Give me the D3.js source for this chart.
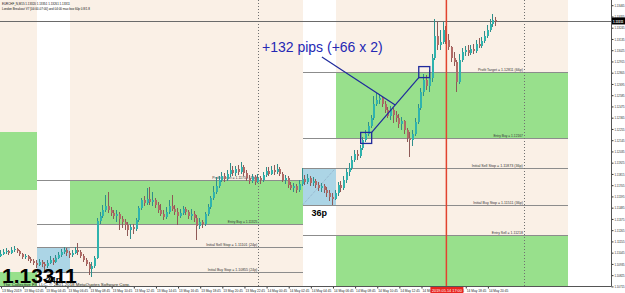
<!DOCTYPE html>
<html><head><meta charset="utf-8">
<script src="https://cdn.jsdelivr.net/npm/d3@7"></script>
<style>
html,body{margin:0;padding:0;background:#fff;}
svg{display:block;font-family:"Liberation Sans",Arial,sans-serif;}
.narrow{font-family:"Liberation Sans Narrow","Liberation Sans",Arial,sans-serif;}
</style></head><body>
<svg id="chart" width="625" height="293"></svg>
<script>
// ---------------- DATA ----------------
const headerLine1 = "EURCHF_N,M15  1.13320 1.13351 1.13261 1.13311";
const headerLine2 = "London Breakout V7 [04:00-07:00] and 04:00 max box 60p 0.8/1.8";
const copyright = "The Collective FX LLC, \u00A9 2001-2018 MetaQuotes Software Corp.";
const firstBar = "2019-05-13 00:45";
const barMinutes = 15;

const open = [
1.11012,1.11032,1.11051,1.11061,1.11042,1.11071,1.11081,1.11061,1.11032,1.11003,
1.11012,1.10983,1.10963,1.10944,1.10924,1.10953,1.10934,1.10914,1.10944,1.10973,
1.10953,1.10993,1.11022,1.11051,1.11071,1.11042,1.11022,1.11042,1.11071,1.11051,
1.11012,1.10973,1.10934,1.10885,1.10914,1.10993,1.11354,1.11403,1.11462,1.11501,
1.11462,1.11433,1.11403,1.11423,1.11374,1.11344,1.11315,1.11267,1.11296,1.11276,
1.11364,1.11482,1.11560,1.11531,1.11570,1.11540,1.11560,1.11511,1.11462,1.11423,
1.11394,1.11442,1.11501,1.11472,1.11442,1.11403,1.11433,1.11472,1.11442,1.11403,
1.11423,1.11384,1.11305,1.11344,1.11325,1.11423,1.11492,1.11580,1.11638,1.11697,
1.11756,1.11794,1.11765,1.11814,1.11853,1.11824,1.11863,1.11833,1.11883,1.11824,
1.11778,1.11746,1.11785,1.11736,1.11778,1.11756,1.11804,1.11843,1.11814,1.11853,
1.11833,1.11863,1.11814,1.11756,1.11778,1.11707,1.11678,1.11697,1.11658,1.11717,
1.11765,1.11736,1.11778,1.11727,1.11746,1.11707,1.11678,1.11697,1.11658,1.11629,
1.11590,1.11570,1.11629,1.11707,1.11678,1.11756,1.11833,1.11873,1.11951,1.12010,
1.11990,1.12069,1.12147,1.12206,1.12283,1.12362,1.12499,1.12538,1.12558,1.12499,
1.12440,1.12381,1.12440,1.12391,1.12362,1.12303,1.12332,1.12245,1.12167,1.12147,
1.12206,1.12322,1.12460,1.12616,1.12734,1.12675,1.12753,1.12949,1.13164,1.13076,
1.13105,1.13223,1.13125,1.13057,1.12949,1.12909,1.12714,1.12929,1.13007,1.13027,
1.12998,1.13037,1.13017,1.13086,1.13066,1.13115,1.13164,1.13223,1.13281,1.13320];

const high = [
1.11071,1.11081,1.11091,1.11071,1.11101,1.11110,1.11091,1.11071,1.11042,1.11032,
1.11022,1.11003,1.10983,1.10973,1.10983,1.10973,1.10953,1.10973,1.11012,1.10993,
1.11022,1.11051,1.11081,1.11101,1.11091,1.11061,1.11071,1.11101,1.11140,1.11071,
1.11032,1.10993,1.10953,1.10953,1.11012,1.11384,1.11442,1.11511,1.11609,1.11638,
1.11492,1.11462,1.11462,1.11442,1.11403,1.11374,1.11344,1.11325,1.11325,1.11384,
1.11501,1.11580,1.11599,1.11678,1.11688,1.11638,1.11580,1.11540,1.11521,1.11462,
1.11492,1.11560,1.11609,1.11511,1.11482,1.11472,1.11501,1.11492,1.11462,1.11472,
1.11452,1.11413,1.11384,1.11364,1.11442,1.11521,1.11599,1.11697,1.11785,1.11794,
1.11833,1.11824,1.11853,1.11922,1.11892,1.11892,1.11902,1.11931,1.11902,1.11853,
1.11804,1.11814,1.11804,1.11814,1.11794,1.11833,1.11883,1.11883,1.11892,1.11902,
1.11912,1.11883,1.11833,1.11804,1.11794,1.11736,1.11727,1.11717,1.11756,1.11873,
1.11804,1.11814,1.11794,1.11785,1.11765,1.11736,1.11727,1.11717,1.11688,1.11658,
1.11629,1.11658,1.11736,1.11746,1.11794,1.11873,1.11922,1.11990,1.12049,1.12049,
1.12098,1.12177,1.12245,1.12322,1.12391,1.12577,1.12607,1.12597,1.12568,1.12528,
1.12470,1.12479,1.12460,1.12430,1.12401,1.12372,1.12342,1.12265,1.12225,1.12245,
1.12362,1.12499,1.12656,1.12792,1.12782,1.12831,1.12988,1.13330,1.13300,1.13223,
1.13300,1.13261,1.13184,1.13066,1.13007,1.12929,1.12988,1.13047,1.13066,1.13076,
1.13076,1.13086,1.13125,1.13145,1.13155,1.13213,1.13271,1.13330,1.13379,1.13351];

const low = [
1.11003,1.11022,1.11032,1.11022,1.11032,1.11051,1.11042,1.11012,1.10983,1.10983,
1.10963,1.10944,1.10924,1.10895,1.10914,1.10905,1.10855,1.10895,1.10934,1.10924,
1.10944,1.10983,1.11003,1.11032,1.11012,1.10993,1.11003,1.11032,1.11022,1.10993,
1.10953,1.10914,1.10826,1.10807,1.10895,1.10983,1.11325,1.11384,1.11442,1.11433,
1.11403,1.11374,1.11344,1.11267,1.11286,1.11267,1.11208,1.11179,1.11228,1.11257,
1.11344,1.11462,1.11501,1.11511,1.11511,1.11501,1.11482,1.11433,1.11403,1.11364,
1.11374,1.11423,1.11452,1.11413,1.11315,1.11384,1.11413,1.11413,1.11374,1.11364,
1.11344,1.11169,1.11276,1.11286,1.11305,1.11403,1.11472,1.11560,1.11619,1.11678,
1.11736,1.11736,1.11746,1.11785,1.11794,1.11794,1.11804,1.11814,1.11794,1.11746,
1.11717,1.11727,1.11707,1.11727,1.11717,1.11736,1.11785,1.11794,1.11804,1.11804,
1.11814,1.11794,1.11736,1.11717,1.11678,1.11658,1.11638,1.11629,1.11638,1.11697,
1.11707,1.11717,1.11697,1.11697,1.11678,1.11648,1.11638,1.11629,1.11590,1.11550,
1.11511,1.11560,1.11599,1.11638,1.11658,1.11727,1.11794,1.11853,1.11931,1.11951,
1.11971,1.12049,1.12127,1.12186,1.12265,1.12342,1.12479,1.12499,1.12470,1.12411,
1.12362,1.12342,1.12313,1.12322,1.12265,1.12245,1.12206,1.12127,1.11980,1.12088,
1.12186,1.12303,1.12440,1.12577,1.12636,1.12616,1.12714,1.12929,1.13027,1.13027,
1.13086,1.13086,1.13027,1.12909,1.12870,1.12616,1.12695,1.12909,1.12969,1.12969,
1.12978,1.12988,1.12998,1.13047,1.13047,1.13096,1.13145,1.13203,1.13251,1.13261];

const close = [
1.11032,1.11051,1.11061,1.11042,1.11071,1.11081,1.11061,1.11032,1.11003,1.11012,
1.10983,1.10963,1.10944,1.10924,1.10953,1.10934,1.10914,1.10944,1.10973,1.10953,
1.10993,1.11022,1.11051,1.11071,1.11042,1.11022,1.11042,1.11071,1.11051,1.11012,
1.10973,1.10934,1.10885,1.10914,1.10993,1.11354,1.11403,1.11462,1.11501,1.11462,
1.11433,1.11403,1.11423,1.11374,1.11344,1.11315,1.11267,1.11296,1.11276,1.11364,
1.11482,1.11560,1.11531,1.11570,1.11540,1.11560,1.11511,1.11462,1.11423,1.11394,
1.11442,1.11501,1.11472,1.11442,1.11403,1.11433,1.11472,1.11442,1.11403,1.11423,
1.11384,1.11305,1.11344,1.11325,1.11423,1.11492,1.11580,1.11638,1.11697,1.11756,
1.11794,1.11765,1.11814,1.11853,1.11824,1.11863,1.11833,1.11883,1.11824,1.11778,
1.11746,1.11785,1.11736,1.11778,1.11756,1.11804,1.11843,1.11814,1.11853,1.11833,
1.11863,1.11814,1.11756,1.11778,1.11707,1.11678,1.11697,1.11658,1.11717,1.11765,
1.11736,1.11778,1.11727,1.11746,1.11707,1.11678,1.11697,1.11658,1.11629,1.11590,
1.11570,1.11629,1.11707,1.11678,1.11756,1.11833,1.11873,1.11951,1.12010,1.11990,
1.12069,1.12147,1.12206,1.12283,1.12362,1.12499,1.12538,1.12558,1.12499,1.12440,
1.12381,1.12440,1.12391,1.12362,1.12303,1.12332,1.12245,1.12167,1.12147,1.12206,
1.12322,1.12460,1.12616,1.12734,1.12675,1.12753,1.12949,1.13164,1.13076,1.13105,
1.13223,1.13125,1.13057,1.12949,1.12909,1.12714,1.12929,1.13007,1.13027,1.12998,
1.13037,1.13017,1.13086,1.13066,1.13115,1.13164,1.13223,1.13281,1.13320,1.13311];

const lastPrice = 1.13311;
const lastPriceLabel = "1.13311";

const priceTicks = [1.13465,1.13355,1.13245,1.13135,1.13025,1.12915,1.12805,1.12695,1.12585,1.12475,
  1.12365,1.12255,1.12145,1.12035,1.11925,1.11815,1.11705,1.11595,1.11485,1.11375,
  1.11265,1.11155,1.11045,1.10935,1.10825,1.10715];

const timeTicks = ["2019-05-13 00:45","2019-05-13 02:45","2019-05-13 04:45","2019-05-13 06:45",
  "2019-05-13 08:45","2019-05-13 10:45","2019-05-13 12:45","2019-05-13 14:45","2019-05-13 16:45",
  "2019-05-13 18:45","2019-05-13 20:45","2019-05-13 22:45","2019-05-14 00:45","2019-05-14 02:45",
  "2019-05-14 04:45","2019-05-14 06:45","2019-05-14 08:45","2019-05-14 10:45","2019-05-14 12:45",
  "2019-05-14 14:45","2019-05-14 16:45","2019-05-14 18:45","2019-05-14 20:45"];
const timeLabels = ["13 May 2019","13 May 02:45","13 May 04:45","13 May 06:45","13 May 08:45",
  "13 May 10:45","13 May 12:45","13 May 14:45","13 May 16:45","13 May 18:45","13 May 20:45",
  "13 May 22:45","14 May 00:45","14 May 02:45","14 May 04:45","14 May 06:45","14 May 08:45",
  "14 May 10:45","14 May 12:45","14 May 14:45","14 May 16:45","14 May 18:45","14 May 20:45"];

// session shading (trade windows) and range boxes
const tradeWindows = [["2019-05-12 20:00","2019-05-13 04:00"],["2019-05-13 07:00","2019-05-14 04:00"],["2019-05-14 07:00","2019-05-15 04:00"]];
const rangeBoxes = [
  {start:"2019-05-13 04:00", end:"2019-05-13 07:00", high:1.11101, low:1.10855, label:"24p"},
  {start:"2019-05-14 04:00", end:"2019-05-14 07:00", high:1.11873, low:1.11511, label:"36p"}];
const targetZones = [
  {start:"2019-05-12 20:00", end:"2019-05-13 04:00", top:1.12225, bottom:1.11658},
  {start:"2019-05-12 20:00", end:"2019-05-13 04:00", top:1.10855, bottom:1.10300},
  {start:"2019-05-13 07:00", end:"2019-05-14 04:00", top:1.11756, bottom:1.11325},
  {start:"2019-05-14 07:00", end:"2019-05-15 04:00", top:1.12811, bottom:1.12167},
  {start:"2019-05-14 07:00", end:"2019-05-15 04:00", top:1.11218, bottom:1.10558}];
const levelLines = [
  {start:"2019-05-13 04:00", end:"2019-05-14 04:00", at:"2019-05-14 00:00", price:1.11756, text:"Profit Target = 1.11756 (43p)"},
  {start:"2019-05-13 04:00", end:"2019-05-14 04:00", at:"2019-05-14 00:00", price:1.11325, text:"Entry Buy = 1.11325"},
  {start:"2019-05-13 04:00", end:"2019-05-14 04:00", at:"2019-05-14 00:00", price:1.11101, text:"Initial Sell Stop = 1.11101 (24p)"},
  {start:"2019-05-13 04:00", end:"2019-05-14 04:00", at:"2019-05-14 00:00", price:1.10855, text:"Initial Buy Stop = 1.10855 (24p)"},
  {start:"2019-05-14 04:00", end:"2019-05-15 04:00", at:"2019-05-15 00:00", price:1.12811, text:"Profit Target = 1.12811 (66p)"},
  {start:"2019-05-14 04:00", end:"2019-05-15 04:00", at:"2019-05-15 00:00", price:1.12167, text:"Entry Buy = 1.12167"},
  {start:"2019-05-14 04:00", end:"2019-05-15 04:00", at:"2019-05-15 00:00", price:1.11873, text:"Initial Sell Stop = 1.11873 (36p)"},
  {start:"2019-05-14 04:00", end:"2019-05-15 04:00", at:"2019-05-15 00:00", price:1.11511, text:"Initial Buy Stop = 1.11511 (36p)"},
  {start:"2019-05-14 04:00", end:"2019-05-15 04:00", at:"2019-05-15 00:00", price:1.11218, text:"Entry Sell = 1.11218"}];
const dayLines = ["2019-05-14 00:00","2019-05-15 00:00"];
const markerTime = "2019-05-14 17:00";
const markerLabel = "2019.05.14 17:00";

// trade annotation
const tradeEntry = {time:"2019-05-14 09:45", price:1.12167};
const tradeExit  = {time:"2019-05-14 15:00", price:1.12811};
const noteText = "+132 pips (+66 x 2)";
const notePos = {time:"2019-05-14 00:20", price:1.13007};
const noteLineStart = {time:"2019-05-14 05:45", price:1.12959};

// ---------------- CHART ----------------
const W = 625, H = 293, plotR = 611, plotB = 286;
const parse = d3.timeParse("%Y-%m-%d %H:%M");
const x = d3.scaleTime().domain([parse("2019-05-13 00:00"), parse("2019-05-15 04:00")]).range([-7.26, 568.1]);
const y = d3.scaleLinear().domain([1.10719, 1.13516]).range([plotB, 0]);
const px = v => Math.round(v) + 0.5;

const svg = d3.select("#chart");
svg.append("rect").attr("width", W).attr("height", H).attr("fill", "#ffffff");
svg.append("defs").append("clipPath").attr("id", "plotclip")
  .append("rect").attr("x", 0).attr("y", 0).attr("width", plotR).attr("height", plotB);
const g = svg.append("g").attr("clip-path", "url(#plotclip)").attr("shape-rendering", "crispEdges");

// trade-window shading
g.selectAll("rect.win").data(tradeWindows).join("rect")
  .attr("x", d => Math.round(x(parse(d[0])))).attr("y", 0)
  .attr("width", d => Math.round(x(parse(d[1]))) - Math.round(x(parse(d[0])))).attr("height", plotB)
  .attr("fill", "#faf0e6");

// target zones
g.selectAll("rect.zone").data(targetZones).join("rect")
  .attr("x", d => Math.round(x(parse(d.start)))).attr("y", d => Math.round(y(d.top)))
  .attr("width", d => Math.round(x(parse(d.end))) - Math.round(x(parse(d.start))))
  .attr("height", d => Math.round(y(d.bottom)) - Math.round(y(d.top)))
  .attr("fill", "#98e08c");

// range boxes
g.selectAll("rect.box").data(rangeBoxes).join("rect")
  .attr("x", d => Math.round(x(parse(d.start)))).attr("y", d => Math.round(y(d.high)))
  .attr("width", d => Math.round(x(parse(d.end))) - Math.round(x(parse(d.start))))
  .attr("height", d => Math.round(y(d.low)) - Math.round(y(d.high)))
  .attr("fill", "#acd5e6");
g.selectAll("line.diag").data(rangeBoxes).join("line")
  .attr("x1", d => x(parse(d.start))).attr("y1", d => y(d.low))
  .attr("x2", d => x(parse(d.end))).attr("y2", d => y(d.high))
  .attr("stroke", "#8aa6c0").attr("stroke-width", 0.8).attr("stroke-dasharray", "1,1")
  .attr("shape-rendering", "auto");

// level lines
g.selectAll("line.lvl").data(levelLines).join("line")
  .attr("x1", d => x(parse(d.start))).attr("x2", d => x(parse(d.end)))
  .attr("y1", d => px(y(d.price))).attr("y2", d => px(y(d.price)))
  .attr("stroke", "#8c8c8c").attr("stroke-width", 1);

// day separators (dotted)
g.selectAll("line.day").data(dayLines).join("line")
  .attr("x1", d => px(x(parse(d)))).attr("x2", d => px(x(parse(d))))
  .attr("y1", 0).attr("y2", plotB)
  .attr("stroke", "#707070").attr("stroke-width", 1).attr("stroke-dasharray", "1,2");

// level labels (tiny condensed MT4 text)
g.selectAll("text.lvl").data(levelLines).join("text")
  .attr("class", "narrow")
  .attr("x", d => x(parse(d.at)) - 1).attr("y", d => Math.round(y(d.price)) - 1)
  .attr("text-anchor", "end").attr("font-size", 3.6).attr("fill", "#333")
  .attr("textLength", d => d.text.length * 1.55).attr("lengthAdjust", "spacingAndGlyphs")
  .text(d => d.text);

// range labels
g.selectAll("text.rng").data(rangeBoxes).join("text")
  .attr("x", d => (x(parse(d.start)) + x(parse(d.end))) / 2).attr("y", d => y(d.low) + 11)
  .attr("text-anchor", "middle").attr("font-size", 9).attr("font-weight", "bold").attr("fill", "#000")
  .text(d => d.label);

// current price line
g.append("line").attr("x1", 0).attr("x2", plotR)
  .attr("y1", px(y(lastPrice))).attr("y2", px(y(lastPrice)))
  .attr("stroke", "#6a6a6a").attr("stroke-width", 1);

// candles
const t0 = parse(firstBar);
const bars = close.map((c, i) => ({
  t: new Date(t0.getTime() + i * barMinutes * 60000),
  o: open[i], h: high[i], l: low[i], c: c
}));
const cg = g.append("g");
cg.selectAll("rect.wick").data(bars).join("rect")
  .attr("x", d => Math.round(x(d.t)) - 1).attr("width", 1)
  .attr("y", d => Math.round(y(d.h))).attr("height", d => Math.max(1, Math.round(y(d.l)) - Math.round(y(d.h))))
  .attr("fill", d => d.c >= d.o ? "#2f8f8b" : "#8f5a57");
cg.selectAll("rect.body").data(bars).join("rect")
  .attr("x", d => Math.round(x(d.t)) - 1).attr("width", 2)
  .attr("y", d => Math.round(y(Math.max(d.o, d.c))))
  .attr("height", d => Math.max(1, Math.round(y(Math.min(d.o, d.c))) - Math.round(y(Math.max(d.o, d.c)))))
  .attr("fill", d => d.c >= d.o ? "#2fb3ae" : "#b06a66");

// red time marker
g.append("line").attr("x1", x(parse(markerTime))).attr("x2", x(parse(markerTime)))
  .attr("y1", 0).attr("y2", plotB).attr("stroke", "#e2432f").attr("stroke-width", 1.5)
  .attr("shape-rendering", "auto");

// trade annotation
const ann = g.append("g").attr("shape-rendering", "auto");
const sq = 11;
const ex = x(parse(tradeEntry.time)), ey = y(tradeEntry.price);
const xx = x(parse(tradeExit.time)), xy = y(tradeExit.price);
ann.append("line").attr("x1", ex + sq / 2).attr("y1", ey - sq / 2).attr("x2", xx - sq / 2).attr("y2", xy + sq / 2)
  .attr("stroke", "#1f2a9c").attr("stroke-width", 1.2);
ann.append("line").attr("x1", x(parse(noteLineStart.time))).attr("y1", y(noteLineStart.price))
  .attr("x2", (ex + xx) / 2).attr("y2", (ey + xy) / 2)
  .attr("stroke", "#1f2a9c").attr("stroke-width", 1.2);
ann.selectAll("rect").data([[ex, ey], [xx, xy]]).join("rect")
  .attr("x", d => d[0] - sq / 2).attr("y", d => d[1] - sq / 2).attr("width", sq).attr("height", sq)
  .attr("fill", "none").attr("stroke", "#1f2a9c").attr("stroke-width", 1.3);
ann.append("text").attr("x", x(parse(notePos.time))).attr("y", y(notePos.price))
  .attr("font-size", 14).attr("fill", "#2528b4").text(noteText);

// header & footer texts
svg.append("text").attr("class", "narrow").attr("x", 2).attr("y", 5).attr("font-size", 4.2).attr("fill", "#111")
  .attr("textLength", 68).attr("lengthAdjust", "spacingAndGlyphs").text(headerLine1);
svg.append("text").attr("class", "narrow").attr("x", 2).attr("y", 10).attr("font-size", 4.2).attr("fill", "#111")
  .attr("textLength", 88).attr("lengthAdjust", "spacingAndGlyphs").text(headerLine2);
svg.append("text").attr("x", 2).attr("y", 283).attr("font-size", 21).attr("font-weight", "bold")
  .attr("fill", "#000").text(lastPriceLabel);
svg.append("text").attr("class", "narrow").attr("x", 3).attr("y", 285.6).attr("font-size", 3.8).attr("fill", "#1a2a1a")
  .attr("textLength", 127).attr("lengthAdjust", "spacingAndGlyphs").text(copyright);

// right price axis
const yAxis = svg.append("g").attr("transform", `translate(${plotR + 0.5},0)`)
  .call(d3.axisRight(y).tickValues(priceTicks).tickSize(2).tickSizeOuter(0).tickPadding(1)
    .tickFormat(d3.format(".5f")));
yAxis.select(".domain").remove();
yAxis.selectAll("line").attr("stroke", "#333");
yAxis.selectAll("text").attr("class", "narrow").attr("font-size", 3.6).attr("fill", "#222")
  .attr("textLength", 10).attr("lengthAdjust", "spacingAndGlyphs");
svg.append("line").attr("x1", plotR + 0.5).attr("x2", plotR + 0.5).attr("y1", 0).attr("y2", plotB + 0.5)
  .attr("stroke", "#555");

// bottom time axis
const xAxis = svg.append("g").attr("transform", `translate(0,${plotB + 0.5})`)
  .call(d3.axisBottom(x).tickValues(timeTicks.map(parse)).tickSize(2).tickSizeOuter(0).tickPadding(0.5)
    .tickFormat((d, i) => timeLabels[i]));
xAxis.select(".domain").remove();
xAxis.selectAll("line").attr("stroke", "#333");
xAxis.selectAll("text").attr("class", "narrow").attr("font-size", 4.0).attr("fill", "#222").attr("text-anchor", "start")
  .attr("dx", 0.5).attr("textLength", 19.5).attr("lengthAdjust", "spacingAndGlyphs");
svg.append("line").attr("x1", 0).attr("x2", plotR + 0.5).attr("y1", plotB + 0.5).attr("y2", plotB + 0.5)
  .attr("stroke", "#555");

// last price tag
const lp = y(lastPrice);
svg.append("rect").attr("x", plotR + 1).attr("y", lp - 3.5).attr("width", 13).attr("height", 7).attr("fill", "#000");
svg.append("text").attr("class", "narrow").attr("x", plotR + 2).attr("y", lp + 1.6).attr("font-size", 4.0).attr("font-weight", "bold")
  .attr("fill", "#fff").attr("textLength", 10.5).attr("lengthAdjust", "spacingAndGlyphs").text(lastPriceLabel);

// time marker tag
const mx = x(parse(markerTime));
svg.append("rect").attr("x", mx - 16).attr("y", plotB + 1).attr("width", 33).attr("height", 7).attr("fill", "#e8251f");
svg.append("text").attr("class", "narrow").attr("x", mx - 14.5).attr("y", plotB + 6.2).attr("font-size", 4.0)
  .attr("fill", "#fff").attr("textLength", 30).attr("lengthAdjust", "spacingAndGlyphs").text(markerLabel);
</script>
</body></html>
